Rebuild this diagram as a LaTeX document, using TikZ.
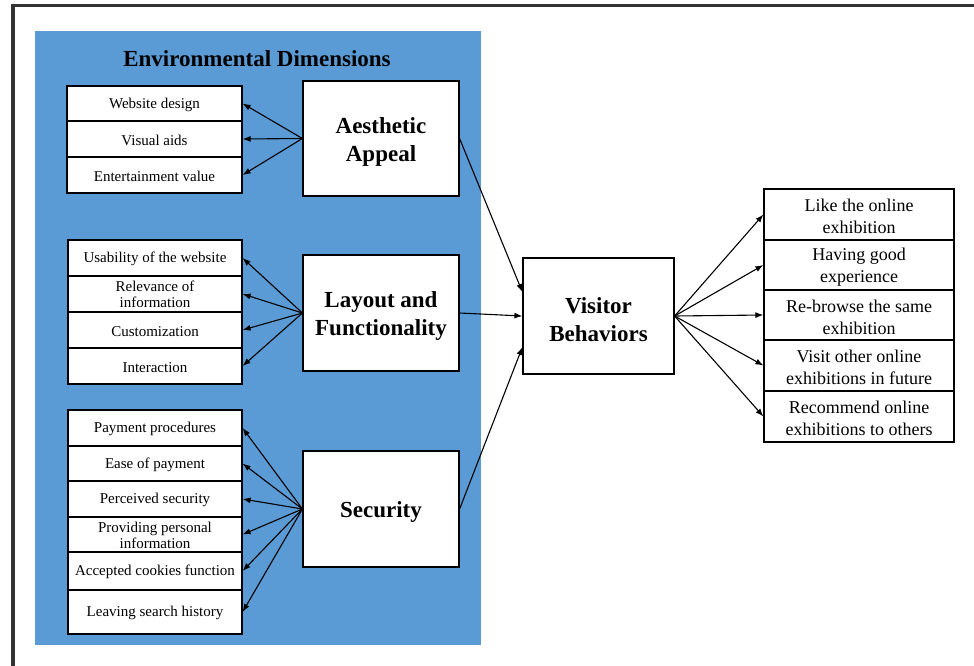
\documentclass[tikz,border=0pt]{standalone}
\usepackage{fontspec}
\setmainfont{Liberation Serif}
\usetikzlibrary{arrows.meta,calc}
\definecolor{envblue}{HTML}{5B9BD5}
\definecolor{framegray}{HTML}{333333}
\newcommand\bigstrut{\rule{0pt}{22.5pt}}
\newcommand\smlstrut{\rule{0pt}{13pt}}
\newcommand\rgtstrut{\rule{0pt}{16.5pt}}
\begin{document}
\begin{tikzpicture}[x=1pt,y=-1pt,
 sbox/.style={draw=black, line width=1.2pt, fill=white, minimum width=175pt, inner sep=0pt, align=center, font=\fontsize{15}{16}\selectfont},
 bbox/.style={draw=black, line width=1.2pt, fill=white, minimum width=156pt, minimum height=115pt, align=center, font=\fontsize{23}{28}\selectfont\bfseries},
 rbox/.style={draw=black, line width=1.2pt, fill=white, minimum width=190pt, inner sep=0pt, align=center, font=\fontsize{18}{22}\selectfont},
 arr/.style={-{Latex[length=8pt,width=6pt]}, line width=1.1pt}]
\useasboundingbox (0,0) rectangle (974,665);
\fill[white] (0,0) rectangle (974,665);
\draw[framegray, line width=3.5pt] (13,668) -- (13,5.5) -- (977,5.5);
\fill[envblue] (35,31) rectangle (481,645);
\node[font=\fontsize{23}{28}\selectfont\bfseries] (title) at (257,59) {Environmental Dimensions};

% group 1
\node[sbox, minimum height=35pt] (a1) at (154.5,103.5) {\smlstrut Website design};
\node[sbox, minimum height=36pt] (a2) at (154.5,139) {\smlstrut Visual aids};
\node[sbox, minimum height=36pt] (a3) at (154.5,175) {\smlstrut Entertainment value};
% group 2
\node[sbox, minimum width=174pt, minimum height=36pt] (l1) at (155,258) {\smlstrut Usability of the website};
\node[sbox, minimum width=174pt, minimum height=36pt] (l2) at (155,294) {\rule{0pt}{12pt}Relevance of\\information};
\node[sbox, minimum width=174pt, minimum height=36pt] (l3) at (155,330) {\smlstrut Customization};
\node[sbox, minimum width=174pt, minimum height=36pt] (l4) at (155,366) {\smlstrut Interaction};
% group 3
\node[sbox, minimum width=174pt, minimum height=36pt] (s1) at (155,428) {\smlstrut Payment procedures};
\node[sbox, minimum width=174pt, minimum height=35pt] (s2) at (155,463.5) {\smlstrut Ease of payment};
\node[sbox, minimum width=174pt, minimum height=36pt] (s3) at (155,499) {\smlstrut Perceived security};
\node[sbox, minimum width=174pt, minimum height=35pt] (s4) at (155,534.5) {\rule{0pt}{12pt}Providing personal\\information};
\node[sbox, minimum width=174pt, minimum height=38pt] (s5) at (155,571) {\smlstrut Accepted cookies function};
\node[sbox, minimum width=174pt, minimum height=44pt] (s6) at (155,612) {\smlstrut Leaving search history};

% big boxes
\node[bbox] (ae) at (381,138.5) {\bigstrut Aesthetic\\Appeal};
\node[bbox, minimum height=116pt] (lf) at (381,313) {\bigstrut Layout and\\Functionality};
\node[bbox, minimum height=116pt] (sec) at (381,509) {\bigstrut Security};
\node[bbox, minimum width=151pt, minimum height=116pt] (vb) at (598.5,316) {\bigstrut Visitor\\Behaviors};

% right boxes
\node[rbox, minimum height=51pt] (r1) at (859,214.5) {\rgtstrut Like the online\\exhibition};
\node[rbox, minimum height=50pt] (r2) at (859,265) {\rgtstrut Having good\\experience};
\node[rbox, minimum height=50pt] (r3) at (859,315) {\rgtstrut Re-browse the same\\exhibition};
\node[rbox, minimum height=51pt] (r4) at (859,365.5) {\rgtstrut Visit other online\\exhibitions in future};
\node[rbox, minimum height=51pt] (r5) at (859,416.5) {\rgtstrut Recommend online\\exhibitions to others};

% arrows
\foreach \t in {a1,a2,a3} \draw[arr] (ae.west) -- (\t.east);
\foreach \t in {l1,l2,l3,l4} \draw[arr] (lf.west) -- (\t.east);
\foreach \t in {s1,s2,s3,s4,s5,s6} \draw[arr] (sec.west) -- (\t.east);
\draw[arr] (ae.east) -- ([yshift=24pt]vb.west);
\draw[arr] (lf.east) -- (vb.west);
\draw[arr] (sec.east) -- ([yshift=-31pt]vb.west);
\foreach \t in {r1,r2,r3,r4,r5} \draw[arr] (vb.east) -- (\t.west);
\end{tikzpicture}
\end{document}
